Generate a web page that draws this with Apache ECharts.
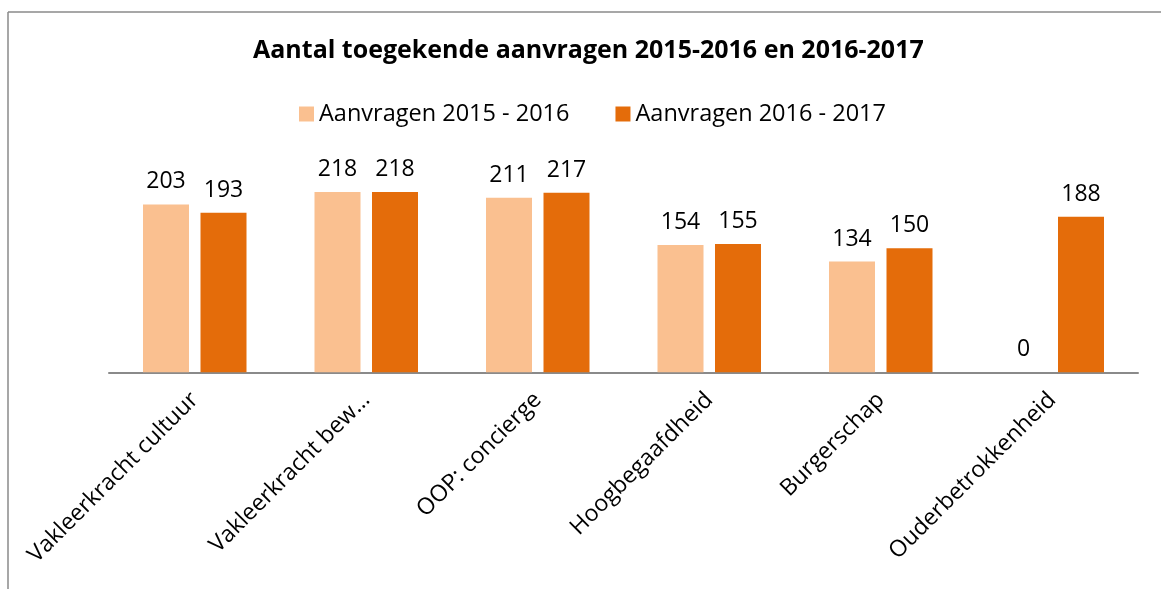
<!DOCTYPE html>
<html lang="nl">

<head>
    <meta charset="utf-8">
    <title>Aantal toegekende aanvragen</title>
    <script src="https://cdn.jsdelivr.net/npm/echarts@6/dist/echarts.min.js"></script>
    <style type="text/css">
        html, body {
            margin: 0;
            padding: 0;
            background: #fff;
        }
        #chart {
            width: 1161px;
            height: 589px;
        }
    </style>
</head>

<body>
    <div id="chart"></div>
    <script>
        // data
        var categories = ['Vakleerkracht cultuur', 'Vakleerkracht bew\u2026', 'OOP: concierge', 'Hoogbegaafdheid', 'Burgerschap', 'Ouderbetrokkenheid'];
        var aanvragen1516 = [203, 218, 211, 154, 134, 0];
        var aanvragen1617 = [193, 218, 217, 155, 150, 188];
        var seriesNames = ['Aanvragen 2015 - 2016', 'Aanvragen 2016 - 2017'];

        var font = "'Open Sans', sans-serif";

        var chart = echarts.init(document.getElementById('chart'));
        var option = {
            backgroundColor: '#fff',
            textStyle: { fontFamily: font },
            title: {
                text: 'Aantal toegekende aanvragen 2015-2016 en 2016-2017',
                left: 248,
                top: 33,
                textStyle: {
                    fontFamily: font,
                    fontSize: 25,
                    fontWeight: 'bold',
                    color: '#000'
                }
            },
            legend: {
                top: 97,
                left: 294,
                itemWidth: 15,
                itemHeight: 15,
                itemGap: 46,
                icon: 'rect',
                textStyle: { fontFamily: font, fontSize: 23.5, color: '#000' },
                data: seriesNames
            },
            // frame of the chart area (only top and left are visible)
            graphic: [
                { type: 'line', shape: { x1: 8, y1: 12, x2: 1161, y2: 12 }, style: { stroke: '#8a8a8a', lineWidth: 1.5 } },
                { type: 'line', shape: { x1: 8, y1: 12, x2: 8, y2: 589 }, style: { stroke: '#8a8a8a', lineWidth: 1.5 } }
            ],
            grid: {
                left: 109,
                right: 23,
                top: 165.5,
                bottom: 216.7
            },
            xAxis: {
                type: 'category',
                data: categories,
                axisLine: { lineStyle: { color: '#8a8a8a', width: 2 } },
                axisTick: { show: false },
                axisLabel: {
                    interval: 0,
                    rotate: 45,
                    margin: 24,
                    fontFamily: font,
                    fontSize: 23,
                    color: '#000'
                }
            },
            yAxis: {
                type: 'value',
                min: 0,
                max: 250,
                show: false,
                splitLine: { show: false }
            },
            series: [{
                name: seriesNames[0],
                type: 'bar',
                data: aanvragen1516,
                barWidth: 46,
                barGap: '25%',
                itemStyle: { color: '#FAC090' },
                label: {
                    show: true,
                    position: 'top',
                    distance: 11,
                    fontFamily: font,
                    fontSize: 23,
                    color: '#000'
                }
            }, {
                name: seriesNames[1],
                type: 'bar',
                data: aanvragen1617,
                barWidth: 46,
                itemStyle: { color: '#E46C0A' },
                label: {
                    show: true,
                    position: 'top',
                    distance: 11,
                    fontFamily: font,
                    fontSize: 23,
                    color: '#000'
                }
            }]
        };
        chart.setOption(option);
    </script>
</body>

</html>
